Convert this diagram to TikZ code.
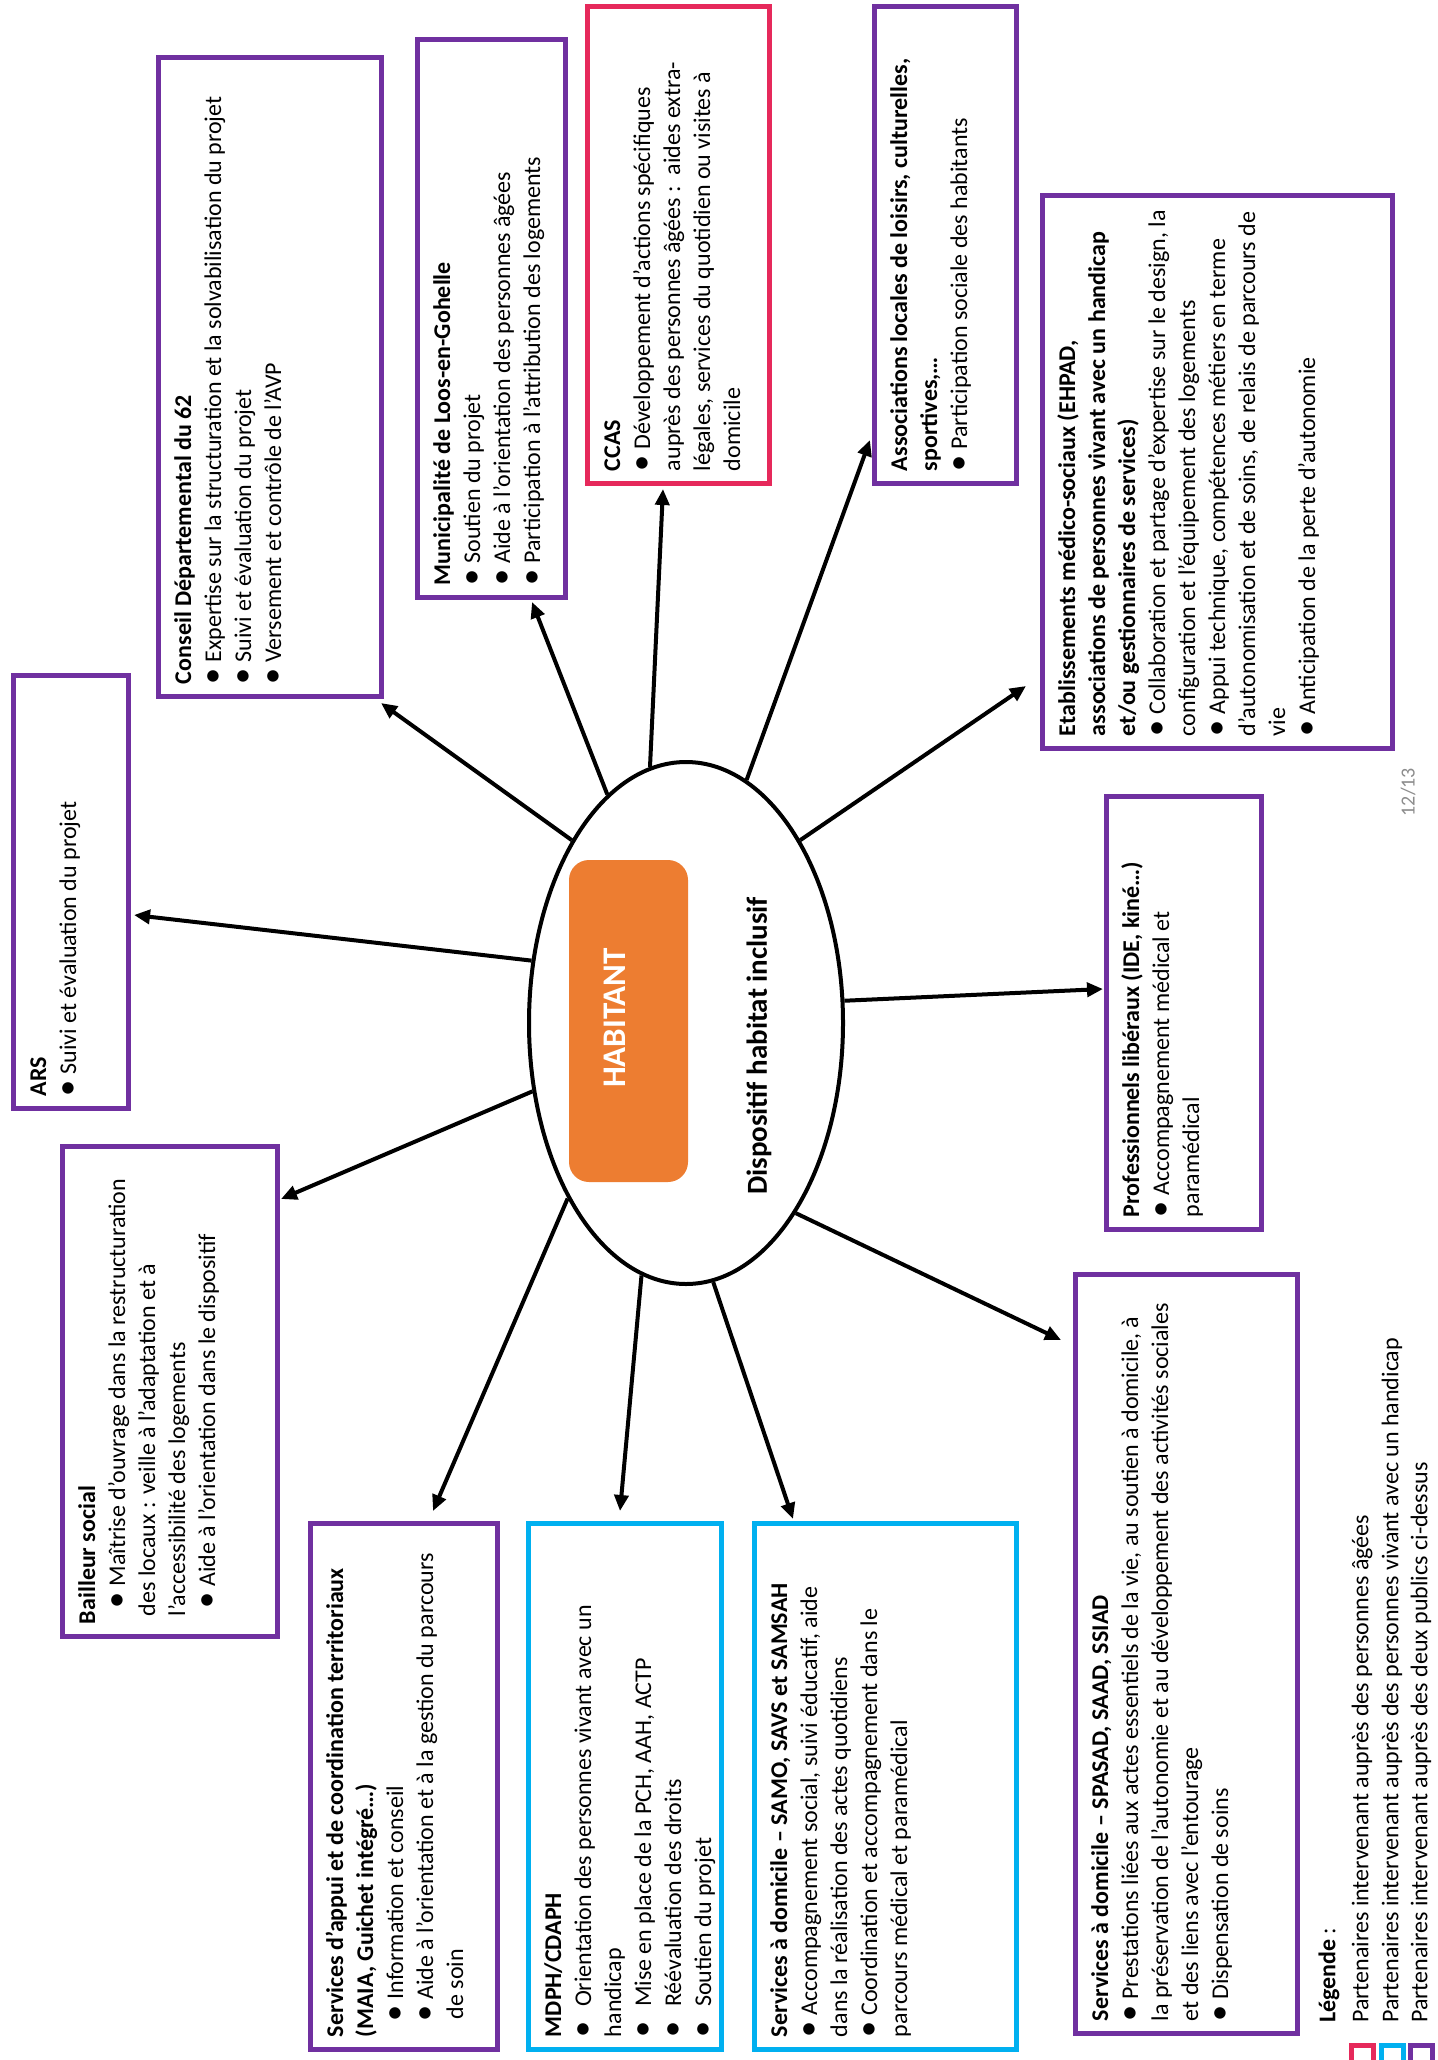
\documentclass[tikz,border=0pt]{standalone}
\usepackage{graphicx}
\usepackage{fontspec}
\setmainfont{Carlito}
\usetikzlibrary{shapes.geometric,arrows.meta}
\definecolor{pviolet}{HTML}{7030A0}
\definecolor{pcyan}{HTML}{00B0F0}
\definecolor{ppink}{HTML}{E6295B}
\definecolor{porange}{HTML}{ED7D31}
\newcommand\boxfont{\fontsize{24}{30}\selectfont}
\newcommand\bulsym{\raisebox{-0.12ex}{\scalebox{1.35}{\textbullet}}}
\newcommand\bul{\bulsym\ }
\newcommand\partbox[7]{%
  \pgfmathsetmacro\pbcx{(#3+#5)/2}%
  \pgfmathsetmacro\pbcy{(#4+#6)/2}%
  \pgfmathsetmacro\pbw{#5-#3}%
  \pgfmathsetmacro\pbh{#6-#4}%
  \pgfmathsetmacro\pbtw{\pbh-24}%
  \pgfmathsetmacro\pbth{\pbw-24}%
  \node[partbox,draw=#2,minimum width=\pbh pt,minimum height=\pbw pt] (#1) at (\pbcx,\pbcy)
    {\parbox[c][\pbth pt][t]{\pbtw pt}{\boxfont\begin{tabular}[t]{@{}l@{}}#7\end{tabular}}};}
\tikzset{
  partbox/.style={rotate=90,line width=5pt,inner sep=0pt},
  arr/.style={line width=4pt,-{Triangle[length=16pt,width=14pt]}},
  legtxt/.style={rotate=90,anchor=west,inner sep=0pt,font=\boxfont},
  legsq/.style={line width=5pt,minimum size=22pt,inner sep=0pt,fill=white}
}
\begin{document}
\begin{tikzpicture}[x=1pt,y=-1pt]
\useasboundingbox (0,0) rectangle (1437,2060);
\fill[white] (0,0) rectangle (1437,2060);

% centre
\node[ellipse,draw,line width=4pt,minimum width=314pt,minimum height=522pt,inner sep=0pt] (hab) at (686,1023) {};
\node[fill=porange,rounded corners=20pt,minimum width=119pt,minimum height=322pt,inner sep=0pt] (habrect) at (628.5,1021) {};
\node[rotate=90,text=white,font=\bfseries\fontsize{33}{40}\selectfont] (habtxt) at (615,1018) {HABITANT};
\node[rotate=90,font=\bfseries\fontsize{29}{35}\selectfont] (disp) at (759,1046) {Dispositif habitat inclusif};

% partner boxes
\partbox{ars}{pviolet}{13}{675}{128}{1108}{%
\textbf{ARS}\\
\bul Suivi et évaluation du projet}

\partbox{cd}{pviolet}{158}{58}{381}{696}{%
\textbf{Conseil Départemental du 62}\\
\bul Expertise sur la structuration et la solvabilisation du projet\\
\bul Suivi et évaluation du projet\\
\bul Versement et contrôle de l’AVP}

\partbox{mun}{pviolet}{417}{40}{565}{597}{%
\textbf{Municipalité de Loos-en-Gohelle}\\
\bul Soutien du projet\\
\bul Aide à l’orientation des personnes âgées\\
\bul Participation à l’attribution des logements}

\partbox{ccas}{ppink}{587}{7}{769}{483}{%
\textbf{CCAS}\\
\bul Développement d’actions spécifiques\\
auprès des personnes âgées :\ \ aides extra-\\
légales, services du quotidien ou visites à\\
domicile}

\partbox{asso}{pviolet}{874}{7}{1016}{483}{%
\textbf{Associations locales de loisirs, culturelles,}\\
\textbf{sportives,…}\\
\bul Participation sociale des habitants}

\partbox{etab}{pviolet}{1042}{196}{1392}{748}{%
\textbf{Etablissements médico-sociaux (EHPAD,}\\
\textbf{associations de personnes vivant avec un handicap}\\
\textbf{et/ou gestionnaires de services)}\\
\bul Collaboration et partage d’expertise sur le design, la\\
configuration et l’équipement des logements\\
\bul Appui technique, compétences métiers en terme\\
d’autonomisation et de soins, de relais de parcours de\\
vie\\
\bul Anticipation de la perte d’autonomie}

\partbox{prof}{pviolet}{1106}{796}{1261}{1229}{%
\textbf{Professionnels libéraux (IDE, kiné…)}\\
\bul Accompagnement médical et\\
paramédical}

\partbox{spasad}{pviolet}{1075}{1274}{1297}{2033}{%
\textbf{Services à domicile – SPASAD, SAAD, SSIAD}\\
\bul Prestations liées aux actes essentiels de la vie, au soutien à domicile, à\\
la préservation de l’autonomie et au développement des activités sociales\\
et des liens avec l’entourage\\
\bul Dispensation de soins}

\partbox{samo}{pcyan}{754}{1523}{1016}{2049}{%
\textbf{Services à domicile – SAMO, SAVS et SAMSAH}\\
\bul Accompagnement social, suivi éducatif, aide\\
dans la réalisation des actes quotidiens\\
\bul Coordination et accompagnement dans le\\
parcours médical et paramédical}

\partbox{mdph}{pcyan}{528}{1523}{721}{2049}{%
\textbf{MDPH/CDAPH}\\
\bulsym\hspace{14pt}Orientation des personnes vivant avec un\\
handicap\\
\bulsym\hspace{14pt}Mise en place de la PCH, AAH, ACTP\\
\bulsym\hspace{14pt}Réévaluation des droits\\
\bulsym\hspace{14pt}Soutien du projet}

\partbox{appui}{pviolet}{310}{1523}{497}{2049}{%
\textbf{Services d’appui et de coordination territoriaux}\\
\textbf{(MAIA, Guichet intégré…)}\\
\hspace*{16pt}\bul Information et conseil\\
\hspace*{16pt}\bul Aide à l’orientation et à la gestion du parcours\\
\hspace*{18pt}de soin}

\partbox{bail}{pviolet}{62}{1146}{277}{1636}{%
\textbf{Bailleur social}\\
\hspace*{16pt}\bul Maîtrise d’ouvrage dans la restructuration\\
\hspace*{8pt}des locaux : veille à l’adaptation et à\\
\hspace*{8pt}l’accessibilité des logements\\
\hspace*{16pt}\bul Aide à l’orientation dans le dispositif}

% arrow tips
\coordinate (t1) at (134,915);
\coordinate (t2) at (381,703);
\coordinate (t3) at (532,602);
\coordinate (t4) at (663,489);
\coordinate (t5) at (870,440);
\coordinate (t6) at (1026,686);
\coordinate (t7) at (1103,989);
\coordinate (t8) at (1061,1340);
\coordinate (t9) at (793,1519);
\coordinate (t10) at (620,1511);
\coordinate (t11) at (433,1511);
\coordinate (t12) at (281,1199);

\draw[arr] (hab.158) -- (t1);
\draw[arr] (hab.122) -- (t2);
\draw[arr] (hab.109) -- (t3);
\draw[arr] (hab.98) -- (t4);
\draw[arr] (hab.76) -- (t5);
\draw[arr] (hab.58) -- (t6);
\draw[arr] (hab.8) -- (t7);
\draw[arr] (hab.-60) -- (t8);
\draw[arr] (hab.-84.5) -- (t9);
\draw[arr] (hab.-100) -- (t10);
\draw[arr] (hab.-124) -- (t11);
\draw[arr] (hab.-156.5) -- (t12);

% page number
\node[rotate=90,text=black!45,font=\fontsize{20}{24}\selectfont] (pg) at (1408,792) {12/13};

% legend
\node[legtxt] (leg0) at (1329,2023) {\textbf{Légende} :};
\node[legtxt] (leg1) at (1362,2023) {Partenaires intervenant auprès des personnes âgées};
\node[legtxt] (leg2) at (1392,2023) {Partenaires intervenant auprès des personnes vivant avec un handicap};
\node[legtxt] (leg3) at (1421,2023) {Partenaires intervenant auprès des deux publics ci-dessus};
\node[legsq,draw=ppink] (sq1) at (1362,2056) {};
\node[legsq,draw=pcyan] (sq2) at (1392.5,2056) {};
\node[legsq,draw=pviolet] (sq3) at (1421.5,2056) {};
\end{tikzpicture}
\end{document}
